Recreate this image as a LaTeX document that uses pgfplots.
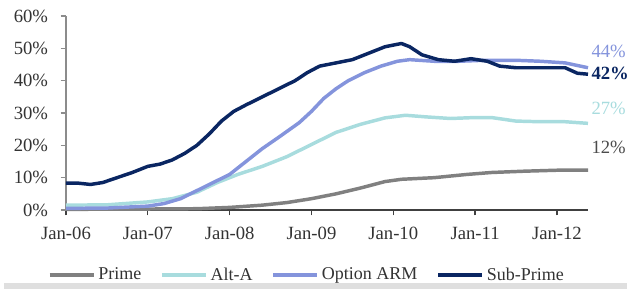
\documentclass[border=0pt]{standalone}
\usepackage{fontspec}
\setmainfont{Liberation Serif}
\usepackage{pgfplots}
\pgfplotsset{compat=1.18}
\definecolor{primec}{RGB}{128,128,128}
\definecolor{altac}{RGB}{168,220,222}
\definecolor{armc}{RGB}{132,148,220}
\definecolor{subc}{RGB}{10,38,98}
\definecolor{axc}{RGB}{140,140,140}
\begin{document}
\begin{tikzpicture}
\path[use as bounding box] (-49.5pt,-59.25pt) rectangle (420.75pt,157.5pt);
\fill[gray!25] (-46.5pt,-59.25pt) rectangle (420.75pt,-55pt);
\begin{axis}[
  scale only axis, width=391.5pt, height=145.5pt,
  xmin=2006, xmax=2012.38, ymin=0, ymax=60,
  axis x line*=bottom, axis y line*=left,
  x axis line style={draw=black!75, line width=1pt, -},
  y axis line style={draw=axc, line width=1pt, -},
  xtick={2006,2007,2008,2009,2010,2011,2012},
  xticklabels={Jan-06,Jan-07,Jan-08,Jan-09,Jan-10,Jan-11,Jan-12},
  ytick={0,10,20,30,40,50,60},
  yticklabels={0\%,10\%,20\%,30\%,40\%,50\%,60\%},
  tick align=outside, major tick length=4pt,
  x tick style={draw=black!75, line width=1pt},
  y tick style={draw=axc, line width=1pt},
  tick label style={font=\fontsize{14}{16}\selectfont, text=black!80},
  xticklabel style={yshift=-5pt},
  yticklabel style={xshift=-6pt},
  /pgf/number format/assume math mode=true,
  legend style={at={(0.4617,-0.335)}, anchor=center, draw=none, fill=none,
     legend columns=4, font=\fontsize{13.5}{15}\selectfont, text=black!80,
     /tikz/every even column/.append style={column sep=12pt},
     inner sep=0pt},
  legend image code/.code={\draw[#1, line width=3pt] (0pt,0pt) -- (33pt,0pt);},
  clip=false,
]
\addplot[primec, line width=2.6pt, line join=round] coordinates {
(2006.00,0.2) (2007.00,0.3) (2007.60,0.4) (2008.00,0.8) (2008.40,1.5) (2008.70,2.3)
(2009.00,3.5) (2009.30,5.0) (2009.60,6.8) (2009.90,8.8) (2010.10,9.5) (2010.50,10.0)
(2010.90,11.0) (2011.20,11.6) (2011.60,12.0) (2012.00,12.3) (2012.38,12.3)};
\addlegendentry{Prime}
\addplot[altac, line width=2.6pt, line join=round] coordinates {
(2006.00,1.5) (2006.50,1.6) (2007.00,2.5) (2007.30,3.5) (2007.60,5.5) (2007.85,8.5)
(2008.10,11.0) (2008.40,13.5) (2008.70,16.5) (2008.90,19.0) (2009.10,21.5) (2009.30,24.0)
(2009.60,26.5) (2009.90,28.5) (2010.15,29.3) (2010.40,28.8) (2010.70,28.3) (2011.00,28.6)
(2011.20,28.6) (2011.50,27.5) (2011.80,27.3) (2012.10,27.3) (2012.38,26.8)};
\addlegendentry{Alt-A}
\addplot[armc, line width=2.6pt, line join=round] coordinates {
(2006.00,0.5) (2006.50,0.6) (2007.00,1.2) (2007.20,2.0) (2007.40,3.5) (2007.60,6.0)
(2007.80,8.5) (2008.00,11.0) (2008.20,15.0) (2008.40,19.0) (2008.60,22.5) (2008.85,27.0)
(2009.00,30.5) (2009.15,34.5) (2009.30,37.5) (2009.45,40.0) (2009.65,42.5) (2009.85,44.5)
(2010.05,46.0) (2010.20,46.5) (2010.50,46.0) (2010.80,46.0) (2011.10,46.3) (2011.50,46.3)
(2011.80,46.0) (2012.10,45.5) (2012.38,44.0)};
\addlegendentry{Option ARM}
\addplot[subc, line width=2.6pt, line join=round] coordinates {
(2006.00,8.3) (2006.15,8.3) (2006.30,7.9) (2006.45,8.5) (2006.60,9.8) (2006.80,11.5)
(2007.00,13.5) (2007.15,14.2) (2007.30,15.5) (2007.45,17.5) (2007.60,20.0) (2007.75,23.5)
(2007.90,27.5) (2008.05,30.5) (2008.20,32.5) (2008.40,35.0) (2008.60,37.5) (2008.80,40.0)
(2008.95,42.5) (2009.10,44.5) (2009.30,45.5) (2009.50,46.5) (2009.70,48.5) (2009.90,50.5)
(2010.10,51.5) (2010.20,50.5) (2010.35,48.0) (2010.55,46.5) (2010.75,46.0) (2010.95,46.8)
(2011.15,46.0) (2011.30,44.5) (2011.50,44.0) (2011.80,44.0) (2012.10,44.0) (2012.25,42.3)
(2012.38,42.0)};
\addlegendentry{Sub-Prime}
\node[anchor=west, inner sep=0pt, text=armc, font=\fontsize{14}{16}\selectfont] at (axis cs:2012.42,49.0) {44\%};
\node[anchor=west, inner sep=0pt, text=subc, font=\fontsize{14}{16}\selectfont\bfseries] at (axis cs:2012.42,42.3) {42\%};
\node[anchor=west, inner sep=0pt, text=altac, font=\fontsize{14}{16}\selectfont] at (axis cs:2012.42,31.5) {27\%};
\node[anchor=west, inner sep=0pt, text=black!70, font=\fontsize{14}{16}\selectfont] at (axis cs:2012.42,19.5) {12\%};
\end{axis}
\end{tikzpicture}
\end{document}
